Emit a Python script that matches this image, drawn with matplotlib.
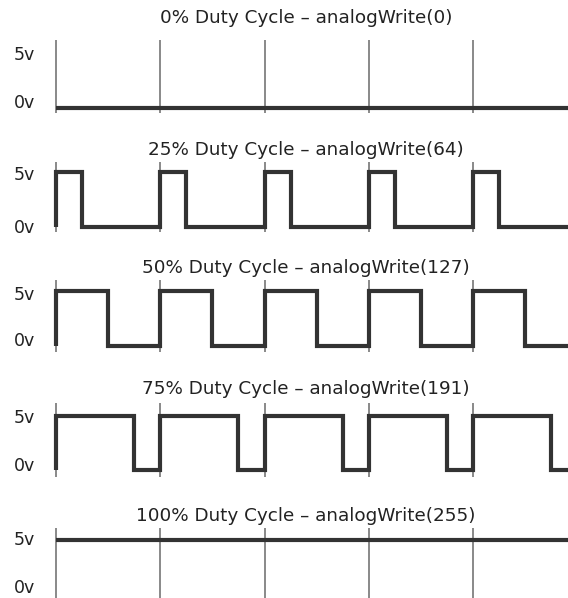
import numpy as np
import matplotlib
matplotlib.use("Agg")
import matplotlib.pyplot as plt

# duty cycle of each panel (fraction of the period spent at 5v) and the analogWrite value
duty_pct = [0, 25, 50, 75, 100]
write_vals = [0, 64, 127, 191, 255]
n_periods = 6
level_labels = ["0v", "5v"]

# layout in pixels (top-down): 5v line, 0v line, grid top, grid bottom, title y
hi_px = [53, 172, 291, 416, 540]
lo_px = [108, 227, 346, 470, 595]
gtop_px = [40, 162, 280, 403, 528]
gbot_px = [113, 232, 352, 477, 598]
title_px = [18, 150, 268, 389, 516]
lab5_px = [55, 175, 295, 418, 540]
lab0_px = [103, 228, 341, 466, 588]

W, H = 568, 598
x0_px, period_px = 56, 104.25

fig = plt.figure(figsize=(W / 100, H / 100), dpi=100)

wave_col = "#333333"
grid_col = "#808080"

for i, (pct, val) in enumerate(zip(duty_pct, write_vals)):
    top, bot = gtop_px[i], gbot_px[i]
    ax = fig.add_axes([0, 1 - bot / H, 1, (bot - top) / H])
    vpp = 5 / (lo_px[i] - hi_px[i])  # volts per pixel
    ax.set_ylim(-(bot - lo_px[i]) * vpp, 5 + (hi_px[i] - top) * vpp)
    ax.set_xlim(-x0_px / period_px, (W - x0_px) / period_px)
    ax.axis("off")

    for k in range(5):
        ax.axvline(k, color=grid_col, lw=1.3, zorder=1)

    d = pct / 100
    if d == 0 or d == 1:
        xs = [0, n_periods]
        ys = [5 * d, 5 * d]
    else:
        xs, ys = [0], [0]
        for k in range(n_periods):
            xs += [k, k, k + d, k + d]
            ys += [0, 5, 5, 0]
    ax.plot(xs, ys, color=wave_col, lw=3.0, solid_joinstyle="miter",
            solid_capstyle="butt", zorder=2)

    for ypx, lab in zip([lab0_px[i], lab5_px[i]], level_labels):
        fig.text(35 / W, 1 - ypx / H, lab, ha="right", va="center",
                 fontsize=12.5, color="#222222")

    fig.text(306 / W, 1 - title_px[i] / H,
             f"{pct}% Duty Cycle \u2013 analogWrite({val})",
             ha="center", va="center", fontsize=13.2, color="#222222")

plt.savefig("out.png", dpi=100)
